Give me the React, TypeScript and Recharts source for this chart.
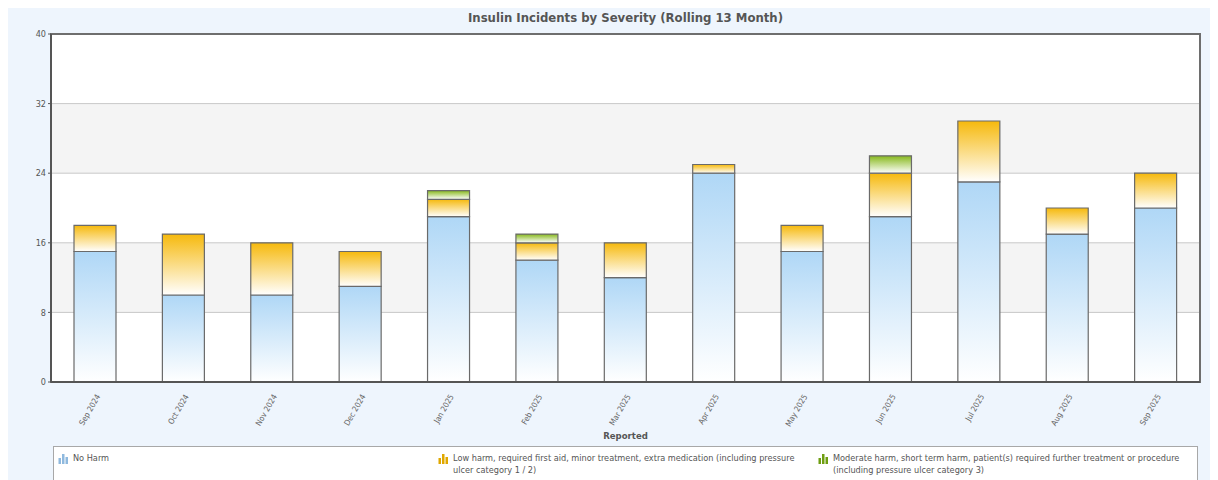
import { BarChart, Bar, XAxis, YAxis, CartesianGrid, ReferenceArea } from 'recharts';

const months = [
  'Sep 2024', 'Oct 2024', 'Nov 2024', 'Dec 2024', 'Jan 2025', 'Feb 2025', 'Mar 2025',
  'Apr 2025', 'May 2025', 'Jun 2025', 'Jul 2025', 'Aug 2025', 'Sep 2025',
];
const noHarm = [15, 10, 10, 11, 19, 14, 12, 24, 15, 19, 23, 17, 20];
const lowHarm = [3, 7, 6, 4, 2, 2, 4, 1, 3, 5, 7, 3, 4];
const moderateHarm = [0, 0, 0, 0, 1, 1, 0, 0, 0, 2, 0, 0, 0];
const yTicks = [0, 8, 16, 24, 32, 40];

const severities = [
  { key: 'noHarm', label: 'No Harm', top: '#afd7f6', icon: '#8fb9de' },
  {
    key: 'lowHarm',
    label: 'Low harm, required first aid, minor treatment, extra medication (including pressure ulcer category 1 / 2)',
    top: '#f6b90c',
    icon: '#e0a800',
  },
  {
    key: 'moderateHarm',
    label: 'Moderate harm, short term harm, patient(s) required further treatment or procedure (including pressure ulcer category 3)',
    top: '#86b81a',
    icon: '#6f9e12',
  },
];

const data = months.map((month, i) => ({
  month,
  noHarm: noHarm[i],
  lowHarm: lowHarm[i],
  moderateHarm: moderateHarm[i],
}));

const FONT = '"DejaVu Sans Condensed", "DejaVu Sans", sans-serif';

const MonthTick = ({ x, y, payload }: any) => (
  <g transform={`translate(${x + 3},${y + 5}) rotate(-60)`}>
    <text textAnchor="end" dy="0.35em" fontSize={8} fill="#666" fontFamily={FONT}>
      {payload.value}
    </text>
  </g>
);

const LegendIcon = ({ color }: { color: string }) => (
  <svg width={11} height={11} style={{ flex: 'none', marginTop: 1, marginRight: 4 }}>
    <rect x={0.5} y={5} width={2.5} height={6} fill={color} />
    <rect x={4} y={1} width={2.5} height={10} fill={color} />
    <rect x={7.5} y={4} width={2.5} height={7} fill={color} />
  </svg>
);

export default function App() {
  return (
    <div
      style={{
        position: 'relative',
        marginTop: -4,
        width: 1205,
        height: 476,
        background: '#eef5fd',
        fontFamily: FONT,
        overflow: 'hidden',
      }}
    >
      <div
        style={{
          position: 'absolute',
          top: 6,
          left: 43,
          width: 1149,
          textAlign: 'center',
          fontSize: 13,
          fontWeight: 'bold',
          color: '#555',
        }}
      >
        Insulin Incidents by Severity (Rolling 13 Month)
      </div>

      <div style={{ position: 'absolute', top: 0, left: 0 }}>
        <BarChart
          width={1205}
          height={440}
          data={data}
          margin={{ top: 30, right: 13, left: 0, bottom: 0 }}
          barSize={42}
        >
          <defs>
            {severities.map((s) => (
              <linearGradient key={s.key} id={`grad-${s.key}`} x1="0" y1="0" x2="0" y2="1">
                <stop offset="0%" stopColor={s.top} />
                <stop offset="100%" stopColor="#ffffff" />
              </linearGradient>
            ))}
          </defs>
          {/* alternating white / grey bands between gridlines, top band white */}
          <CartesianGrid
            vertical={false}
            stroke="#c8c8c8"
            horizontalFill={['#ffffff', '#f4f4f4']}
            fillOpacity={1}
          />
          {/* plot frame */}
          <ReferenceArea y1={0} y2={40} fill="none" stroke="#6e6e6e" strokeWidth={2} />
          <XAxis
            dataKey="month"
            interval={0}
            height={62}
            tick={<MonthTick />}
            tickLine={false}
            axisLine={{ stroke: '#555', strokeWidth: 2 }}
            label={{
              value: 'Reported',
              position: 'insideBottom',
              offset: 5,
              fontSize: 9.5,
              fontWeight: 'bold',
              fill: '#555',
              fontFamily: FONT,
            }}
          />
          <YAxis
            domain={[0, 40]}
            ticks={yTicks}
            width={43}
            tick={{ fill: '#555', fontSize: 9, fontFamily: FONT }}
            tickSize={3}
            tickLine={{ stroke: '#555' }}
            axisLine={{ stroke: '#555', strokeWidth: 2 }}
          />
          {severities.map((s) => (
            <Bar
              key={s.key}
              dataKey={s.key}
              name={s.label}
              stackId="severity"
              fill={`url(#grad-${s.key})`}
              stroke="#6a6a6a"
              strokeWidth={1.2}
              isAnimationActive={false}
            />
          ))}
        </BarChart>
      </div>

      <div
        style={{
          position: 'absolute',
          top: 442,
          left: 45,
          width: 1145,
          height: 60,
          background: '#fff',
          border: '1px solid #a8a8a8',
          display: 'flex',
          paddingTop: 5,
          boxSizing: 'border-box',
        }}
      >
        {severities.map((s) => (
          <div
            key={s.key}
            style={{
              width: 380,
              display: 'flex',
              alignItems: 'flex-start',
              paddingLeft: 4,
              paddingRight: 3,
              boxSizing: 'border-box',
              fontSize: 9.1,
              lineHeight: '12px',
              color: '#555',
            }}
          >
            <LegendIcon color={s.icon} />
            <span>{s.label}</span>
          </div>
        ))}
      </div>
    </div>
  );
}
